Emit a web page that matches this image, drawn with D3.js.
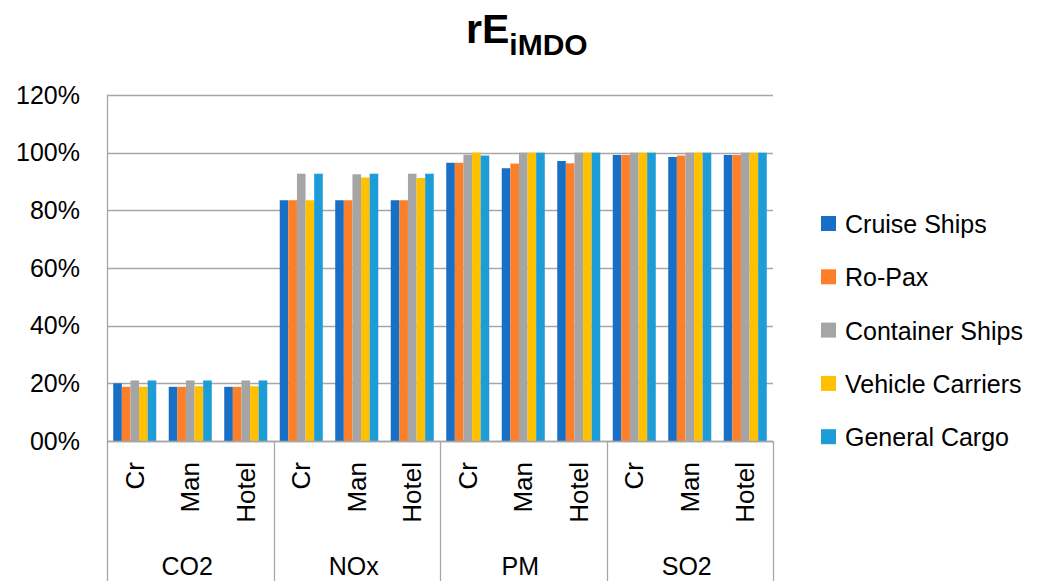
<!DOCTYPE html>
<html>
<head>
<meta charset="utf-8">
<script src="https://cdn.jsdelivr.net/npm/d3@7/dist/d3.min.js"></script>
<style>
  html, body { margin: 0; padding: 0; background: #ffffff; }
  svg { display: block; font-family: "Liberation Sans", Arial, sans-serif; }
</style>
</head>
<body>
<svg id="chart" width="1047" height="581"></svg>
<script>
const groups = ["CO2", "NOx", "PM", "SO2"];
const subCategories = ["Cr", "Man", "Hotel"];
const seriesNames = ["Cruise Ships", "Ro-Pax", "Container Ships", "Vehicle Carriers", "General Cargo"];
const seriesColors = ["#1870C6", "#FD7F2A", "#A5A5A5", "#FFC000", "#1E9CD8"];

// values in % (order: CO2 Cr/Man/Hotel, NOx ..., PM ..., SO2 ...)
const cruiseShips     = [20.0, 18.8, 18.8, 83.5, 83.5, 83.5, 96.5, 94.6, 97.1, 99.2, 98.5, 99.2];
const roPax           = [18.8, 18.8, 18.8, 83.5, 83.5, 83.5, 96.5, 96.2, 96.3, 99.2, 99.0, 99.2];
const containerShips  = [21.0, 21.0, 21.0, 92.7, 92.5, 92.7, 99.3, 100, 100, 100, 100, 100];
const vehicleCarriers = [18.8, 19.0, 19.0, 83.5, 91.4, 91.2, 100, 100, 100, 100, 100, 100];
const generalCargo    = [21.0, 21.0, 21.0, 92.7, 92.7, 92.7, 99.0, 100, 100, 100, 100, 100];

const yTickValues = [0, 20, 40, 60, 80, 100, 120];
const yTickLabels = ["00%", "20%", "40%", "60%", "80%", "100%", "120%"];

const seriesValues = [cruiseShips, roPax, containerShips, vehicleCarriers, generalCargo];

(function () {
const svg = d3.select("#chart");
const pLeft = 107, pRight = 773, pTop = 95, pBottom = 441, axisBottom = 581;

const categories = [];
groups.forEach(g => subCategories.forEach(s => categories.push(g + "|" + s)));

const x0 = d3.scaleBand().domain(categories).range([pLeft, pRight]).paddingInner(0).paddingOuter(0);
const x1 = d3.scaleBand().domain(seriesNames).range([0, x0.bandwidth()]).paddingInner(0).paddingOuter(0.725);
const xg = d3.scaleBand().domain(groups).range([pLeft, pRight]).padding(0);
const y = d3.scaleLinear().domain([0, 120]).range([pBottom, pTop]);

const gridColor = "#A6A6A6";

// gridlines
svg.append("g").selectAll("line").data(yTickValues).join("line")
  .attr("x1", pLeft).attr("x2", pRight)
  .attr("y1", d => Math.round(y(d)) + 0.5).attr("y2", d => Math.round(y(d)) + 0.5)
  .attr("stroke", gridColor).attr("stroke-width", 1.3);

// y axis labels
const yAxis = d3.axisLeft(y).tickValues(yTickValues)
  .tickFormat((d, i) => yTickLabels[i]).tickSize(0).tickPadding(27);
const yg = svg.append("g").attr("transform", `translate(${pLeft},0)`).call(yAxis);
yg.select(".domain").remove();
yg.selectAll("text").attr("font-size", 25).attr("fill", "#000")
  .attr("font-family", "Liberation Sans, Arial, sans-serif");

// vertical axis line (extends down through category area)
svg.append("line").attr("x1", pLeft + 0.5).attr("x2", pLeft + 0.5)
  .attr("y1", pTop).attr("y2", axisBottom)
  .attr("stroke", gridColor).attr("stroke-width", 1.3);

// group separators
const seps = groups.map(g => xg(g) + xg.bandwidth());
svg.append("g").selectAll("line").data(seps).join("line")
  .attr("x1", d => Math.round(d) + 0.5).attr("x2", d => Math.round(d) + 0.5)
  .attr("y1", pBottom).attr("y2", axisBottom)
  .attr("stroke", gridColor).attr("stroke-width", 1.3);

// bars
seriesNames.forEach((name, si) => {
  svg.append("g").selectAll("rect").data(seriesValues[si]).join("rect")
    .attr("x", (d, i) => x0(categories[i]) + x1(name))
    .attr("width", x1.bandwidth())
    .attr("y", d => y(d))
    .attr("height", d => y(0) - y(d))
    .attr("fill", seriesColors[si]);
});

// redraw baseline over bars
svg.append("line").attr("x1", pLeft).attr("x2", pRight)
  .attr("y1", Math.round(y(0)) + 0.5).attr("y2", Math.round(y(0)) + 0.5)
  .attr("stroke", gridColor).attr("stroke-width", 1.3);

// sub-category labels (rotated)
svg.append("g").selectAll("text").data(categories).join("text")
  .attr("transform", d => `translate(${x0(d) + x0.bandwidth() / 2 + 9},462) rotate(-90)`)
  .attr("text-anchor", "end")
  .attr("font-size", 26)
  .attr("fill", "#000")
  .text(d => d.split("|")[1]);

// group labels
svg.append("g").selectAll("text").data(groups).join("text")
  .attr("x", d => xg(d) + xg.bandwidth() / 2 - 3)
  .attr("y", 575)
  .attr("text-anchor", "middle")
  .attr("font-size", 25)
  .attr("fill", "#000")
  .text(d => d);

// title
const title = svg.append("text").attr("x", 466).attr("y", 43)
  .attr("font-weight", "bold").attr("fill", "#000");
title.append("tspan").attr("font-size", 41).text("rE");
title.append("tspan").attr("font-size", 30).attr("dy", 12).text("iMDO");

// legend
const legend = svg.append("g");
seriesNames.forEach((name, i) => {
  const cy = 224 + i * 53.3;
  legend.append("rect").attr("x", 821).attr("y", cy - 8).attr("width", 15).attr("height", 15)
    .attr("fill", seriesColors[i]);
  legend.append("text").attr("x", 845).attr("y", cy + 9)
    .attr("font-size", 25).attr("fill", "#000").text(name);
});
})();
</script>
</body>
</html>
